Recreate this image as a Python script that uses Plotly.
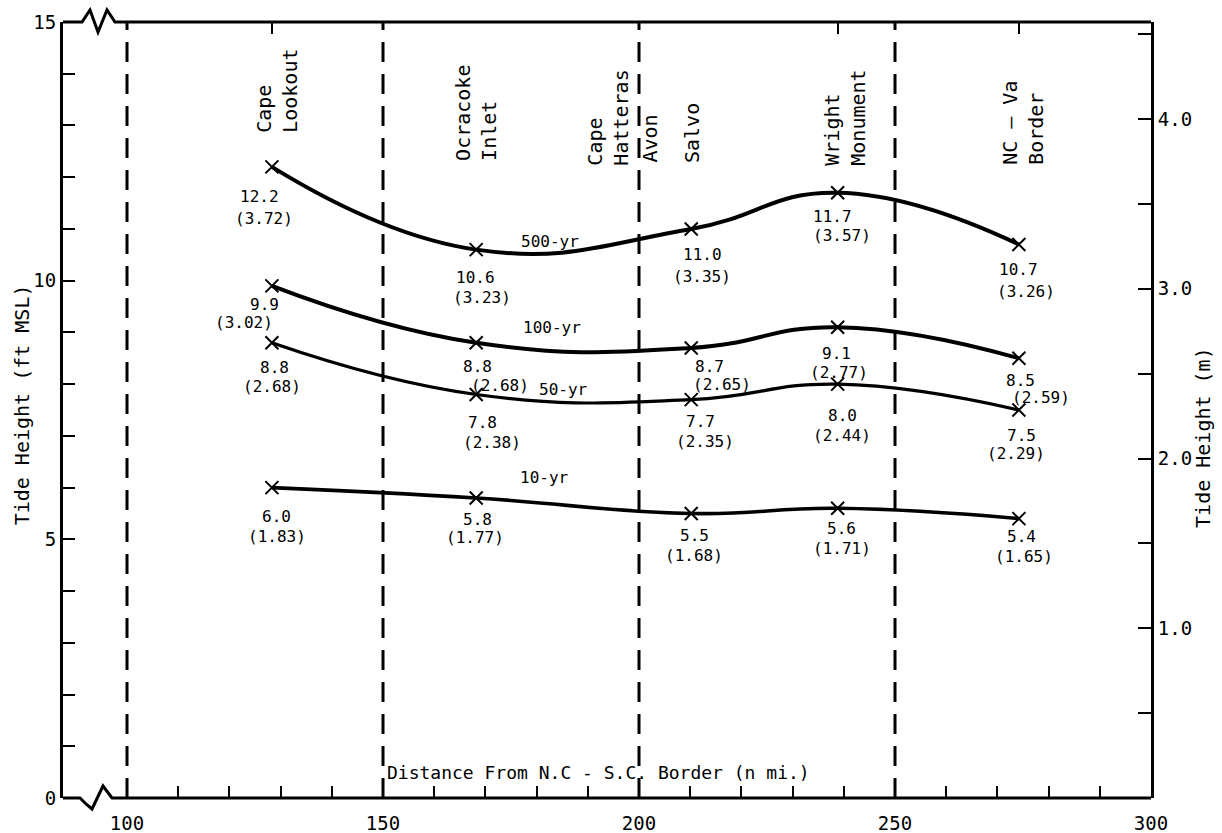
import plotly.graph_objects as go

# ---------------- data ----------------
stations = ["Cape Lookout", "Ocracoke Inlet", "Salvo", "Wright Monument", "NC-Va Border"]
station_x = [128.3, 168.2, 210.2, 238.8, 274.2]   # n mi from N.C.-S.C. border

ft_500 = [12.2, 10.6, 11.0, 11.7, 10.7]
m_500 = [3.72, 3.23, 3.35, 3.57, 3.26]
ft_100 = [9.9, 8.8, 8.7, 9.1, 8.5]
m_100 = [3.02, 2.68, 2.65, 2.77, 2.59]
ft_50 = [8.8, 7.8, 7.7, 8.0, 7.5]
m_50 = [2.68, 2.38, 2.35, 2.44, 2.29]
ft_10 = [6.0, 5.8, 5.5, 5.6, 5.4]
m_10 = [1.83, 1.77, 1.68, 1.71, 1.65]
series_names = ["500-yr", "100-yr", "50-yr", "10-yr"]

divider_x = [100, 150, 200, 250]
place_text = ["Cape<br>Lookout", "Ocracoke<br>Inlet", "Cape<br>Hatteras", "Avon",
              "Salvo", "Wright<br>Monument", "NC – Va<br>Border"]
place_x = [129.3, 168.2, 193.9, 202.1, 210.4, 240.2, 275.0]

x_ticks = list(range(100, 301, 10))
x_ticklabels = [str(v) if v % 50 == 0 else "" for v in x_ticks]
ft_ticks = list(range(0, 16))
ft_ticklabels = [str(v) if v % 5 == 0 else "" for v in ft_ticks]
m_ticks = [0.5, 1.0, 1.5, 2.0, 2.5, 3.0, 3.5, 4.0, 4.5]
m_ticklabels = ["", "1.0", "", "2.0", "", "3.0", "", "4.0", ""]
FT_PER_M = 3.28084

# ---------------- styling / positions ----------------
FONT = "DejaVu Sans Mono"
W, H = 1222, 833
ML, MR, MT, MB = 63, 71, 22, 35
X_RANGE = [87.5, 300]
Y_RANGE = [0, 15]
PW, PH = W - ML - MR, H - MT - MB

# label offsets (px right, px down) for value and metric labels
off_ft = {
    "500-yr": [(-12, 30), (-1, 28), (11, 26), (-5, 24), (0, 25)],
    "100-yr": [(-7, 19), (1, 24), (18, 19), (-1, 26), (2, 22)],
    "50-yr": [(3, 25), (6, 28), (9, 22), (5, 31), (3, 25)],
    "10-yr": [(5, 29), (1, 22), (3, 22), (4, 20), (3, 18)],
}
off_m = {
    "500-yr": [(-8, 52), (6, 48), (11, 48), (4, 43), (7, 47)],
    "100-yr": [(-28, 37), (24, 43), (31, 37), (1, 45), (22, 39)],
    "50-yr": [(0, 44), (16, 48), (14, 42), (4, 51), (-3, 43)],
    "10-yr": [(5, 49), (-1, 40), (3, 42), (4, 40), (5, 38)],
}
series_label_pos = {"500-yr": (182.6, 10.75), "100-yr": (183.0, 9.1),
                    "50-yr": (185.2, 7.89), "10-yr": (181.6, 6.19)}
line_widths = {"500-yr": 4, "100-yr": 4, "50-yr": 3.2, "10-yr": 3.6}

ft_data = {"500-yr": ft_500, "100-yr": ft_100, "50-yr": ft_50, "10-yr": ft_10}
m_data = {"500-yr": m_500, "100-yr": m_100, "50-yr": m_50, "10-yr": m_10}

fig = go.Figure()
annotations = []

for name in series_names:
    fig.add_trace(go.Scatter(
        x=station_x, y=ft_data[name], mode="lines+markers", name=name,
        line=dict(color="black", width=line_widths[name], shape="spline", smoothing=1.3),
        marker=dict(symbol="x-thin", size=13, line=dict(color="black", width=2)),
        showlegend=False, hoverinfo="x+y",
    ))
    for i, (xv, fv, mv) in enumerate(zip(station_x, ft_data[name], m_data[name])):
        dx, dy = off_ft[name][i]
        annotations.append(dict(x=xv, y=fv, xref="x", yref="y", text=f"{fv:.1f}",
                                showarrow=False, xshift=dx, yshift=-dy,
                                font=dict(family=FONT, size=16, color="black")))
        dx, dy = off_m[name][i]
        annotations.append(dict(x=xv, y=fv, xref="x", yref="y", text=f"({mv:.2f})",
                                showarrow=False, xshift=dx, yshift=-dy,
                                font=dict(family=FONT, size=16, color="black")))
    sx, sy = series_label_pos[name]
    annotations.append(dict(x=sx, y=sy, xref="x", yref="y", text=name, showarrow=False,
                            font=dict(family=FONT, size=16, color="black")))

# invisible helper traces so the overlay axes exist
fig.add_trace(go.Scatter(x=[station_x[0], station_x[3], station_x[4]], y=[None] * 3,
                         xaxis="x2", yaxis="y", mode="markers", showlegend=False,
                         hoverinfo="skip"))
fig.add_trace(go.Scatter(x=[None], y=[None], xaxis="x", yaxis="y2", mode="markers",
                         showlegend=False, hoverinfo="skip"))

# place labels at top
place_bottom = [12.82, 12.28, 12.18, 12.24, 12.24, 12.18, 12.2]
for txt, xv, yb in zip(place_text, place_x, place_bottom):
    annotations.append(dict(x=xv, y=yb, xref="x", yref="y", text=txt, textangle=-90,
                            showarrow=False, xanchor="center", yanchor="bottom", align="left",
                            font=dict(family=FONT, size=20, color="black")))

# axis titles
annotations.append(dict(x=150, y=0.5, xref="x", yref="y", xanchor="left", yanchor="middle",
                        xshift=2, showarrow=False,
                        text="Distance From N.C - S.C. Border (n mi.)",
                        font=dict(family=FONT, size=18, color="black")))
annotations.append(dict(x=0, y=0.506, xref="paper", yref="paper", xshift=-41,
                        xanchor="center", yanchor="middle", textangle=-90, showarrow=False,
                        text="Tide Height (ft MSL)",
                        font=dict(family=FONT, size=20, color="black")))
annotations.append(dict(x=1, y=0.464, xref="paper", yref="paper", xshift=52,
                        xanchor="center", yanchor="middle", textangle=-90, showarrow=False,
                        text="Tide Height (m)",
                        font=dict(family=FONT, size=20, color="black")))

shapes = []
for d in divider_x:
    shapes.append(dict(type="line", xref="x", yref="y", x0=d, x1=d, y0=Y_RANGE[0], y1=Y_RANGE[1],
                       line=dict(color="black", width=3, dash="20px,12px")))


def P(px, py):
    return (px - ML) / PW, (H - MB - py) / PH


def path(points):
    pts = [P(a, b) for a, b in points]
    return "M " + " L ".join(f"{a:.5f},{b:.5f}" for a, b in pts)


top_y = MT
bot_y = H - MB
top_pts = [(ML, top_y), (82, top_y), (90, top_y - 12), (98, top_y + 10), (107, top_y - 12),
           (115, top_y), (W - MR, top_y)]
bot_pts = [(ML, bot_y), (80, bot_y), (86, bot_y + 6), (92, bot_y + 11), (103, bot_y - 12),
           (112, bot_y), (W - MR, bot_y)]
for pts in (top_pts, bot_pts):
    shapes.append(dict(type="path", xref="paper", yref="paper", path=path(pts),
                       line=dict(color="black", width=3), layer="above"))

fig.update_layout(
    width=W, height=H,
    margin=dict(l=ML, r=MR, t=MT, b=MB, pad=0, autoexpand=False),
    paper_bgcolor="white", plot_bgcolor="white",
    font=dict(family=FONT, color="black"),
    xaxis=dict(range=X_RANGE, tickvals=x_ticks, ticktext=x_ticklabels, ticks="inside",
               ticklen=12, tickwidth=2, tickcolor="black", showgrid=False, zeroline=False,
               showline=False, tickfont=dict(family=FONT, size=19), ticklabelstandoff=12,
               automargin=False),
    xaxis2=dict(range=X_RANGE, overlaying="x", side="top", anchor="y",
                tickvals=[station_x[0], station_x[3], station_x[4]], ticks="inside",
                ticklen=12, tickwidth=2, tickcolor="black", showticklabels=False,
                showgrid=False, zeroline=False, showline=False, automargin=False),
    yaxis=dict(range=Y_RANGE, tickvals=ft_ticks, ticktext=ft_ticklabels, ticks="inside",
               ticklen=12, tickwidth=2, tickcolor="black", showgrid=False, zeroline=False,
               showline=True, linewidth=3, linecolor="black",
               tickfont=dict(family=FONT, size=19), automargin=False),
    yaxis2=dict(range=[Y_RANGE[0] / FT_PER_M, Y_RANGE[1] / FT_PER_M], overlaying="y",
                side="right", anchor="x", tickvals=m_ticks, ticktext=m_ticklabels,
                ticks="inside", ticklen=13, tickwidth=2, tickcolor="black",
                showgrid=False, zeroline=False, showline=True, linewidth=3,
                linecolor="black", tickfont=dict(family=FONT, size=19), automargin=False),
    annotations=annotations,
    shapes=shapes,
)

fig.write_html("out.html", config={"displayModeBar": False},
               post_script="document.body.style.margin='0';document.body.style.overflow='hidden';")
